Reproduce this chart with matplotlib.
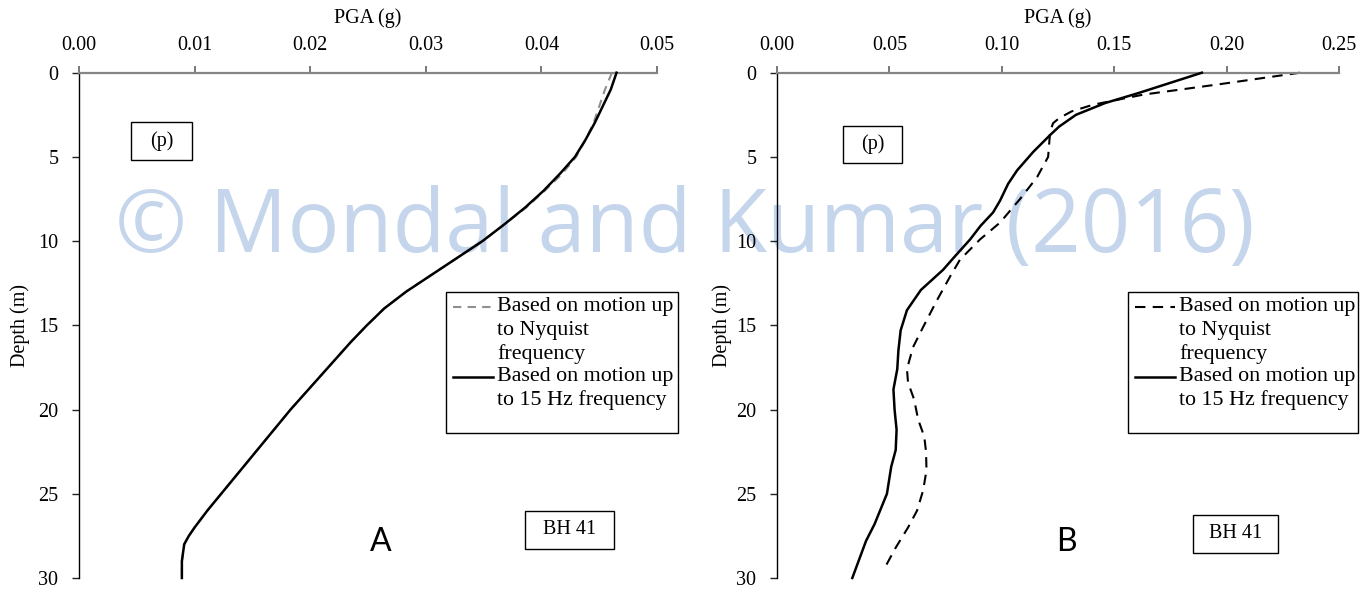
import matplotlib
matplotlib.use("Agg")
import matplotlib.pyplot as plt
from matplotlib.patches import Rectangle
from matplotlib.lines import Line2D

W, H = 1368, 593
DPI = 100

# ---------------- data ----------------
# Panel A (left)
depth_A_solid = [0, 1, 2, 3, 4, 5, 6, 7, 8, 9, 10, 11, 12, 13, 14, 15, 16, 17, 18,
                 19, 20, 21, 22, 23, 24, 25, 26, 27, 27.5, 28, 29, 30]
pga_A_solid = [0.0465, 0.0460, 0.0453, 0.0446, 0.0438, 0.0429, 0.0416, 0.0402, 0.0386,
               0.0368, 0.0349, 0.0327, 0.0305, 0.0283, 0.0264, 0.0249, 0.0235, 0.0222,
               0.0209, 0.0196, 0.0183, 0.0171, 0.0159, 0.0147, 0.0135, 0.0123, 0.0111,
               0.0100, 0.0095, 0.0091, 0.0089, 0.0089]
depth_A_dash = [0, 1, 2, 3, 4, 5, 6, 7, 8, 9, 10, 11, 12, 13, 14, 15, 16, 17, 18,
                19, 20, 21, 22, 23, 24, 25, 26, 27, 27.5, 28, 29, 30]
pga_A_dash = [0.0461, 0.0455, 0.0450, 0.0445, 0.0438, 0.0430, 0.0418, 0.0403, 0.0387,
              0.0368, 0.0349, 0.0327, 0.0305, 0.0283, 0.0264, 0.0249, 0.0235, 0.0222,
              0.0209, 0.0196, 0.0183, 0.0171, 0.0159, 0.0147, 0.0135, 0.0123, 0.0111,
              0.0100, 0.0095, 0.0091, 0.0089, 0.0089]

# Panel B (right)
depth_B_solid = [0, 0.6, 1.2, 1.8, 2.5, 3.2, 3.7, 4.7, 5.8, 6.6, 7.6, 8.3, 9.1, 9.9,
                 11.0, 11.7, 12.9, 14.1, 15.3, 16.5, 17.6, 18.8, 20.0, 21.2, 22.4,
                 23.4, 25.0, 26.8, 27.8, 30.0]
pga_B_solid = [0.189, 0.175, 0.161, 0.146, 0.133, 0.1255, 0.1215, 0.114, 0.1068, 0.1028,
               0.0992, 0.0961, 0.0905, 0.0859, 0.0785, 0.0739, 0.0640, 0.0578, 0.0550,
               0.0540, 0.0535, 0.0518, 0.0523, 0.0532, 0.0528, 0.0508, 0.0489, 0.0434,
               0.0396, 0.0335]
depth_B_dash = [0, 0.7, 1.3, 1.9, 2.3, 2.7, 3.0, 3.5, 5.0, 6.2, 7.5, 8.9, 9.9, 11.1,
                12.1, 13.5, 15.1, 16.3, 17.6, 18.4, 19.4, 20.6, 21.6, 22.5, 23.6, 24.8,
                26.0, 27.0, 28.2, 29.5]
pga_B_dash = [0.2327, 0.196, 0.163, 0.1406, 0.131, 0.1255, 0.1228, 0.1215, 0.1206,
              0.1157, 0.1081, 0.0992, 0.0903, 0.0814, 0.0770, 0.0712, 0.0650, 0.0605,
              0.0578, 0.0583, 0.0610, 0.0628, 0.0655, 0.0663, 0.0665, 0.0650, 0.0623,
              0.0583, 0.0528, 0.0475]

xticks_A = [0.00, 0.01, 0.02, 0.03, 0.04, 0.05]
xticklabels_A = ["0.00", "0.01", "0.02", "0.03", "0.04", "0.05"]
xticks_B = [0.00, 0.05, 0.10, 0.15, 0.20, 0.25]
xticklabels_B = ["0.00", "0.05", "0.10", "0.15", "0.20", "0.25"]
yticks = [0, 5, 10, 15, 20, 25, 30]
yticklabels = ["0", "5", "10", "15", "20", "25", "30"]

legend_label_1 = ["Based on motion up", "to Nyquist", "frequency"]
legend_label_2 = ["Based on motion up", "to 15 Hz frequency"]
watermark = "\u00a9 Mondal and Kumar (2016)"

# ---------------- figure ----------------
SERIF = ["Liberation Serif", "DejaVu Serif"]
fig = plt.figure(figsize=(W / DPI, H / DPI), dpi=DPI)
fig.patch.set_facecolor("white")


def fx(x):
    return x / W


def fy(y):
    return 1 - y / H


Y_TOP, Y_BOT = 72.7, 578.0


def make_axes(x0, x1, xlim, xticks, xticklabels):
    ax = fig.add_axes([fx(x0), fy(Y_BOT), (x1 - x0) / W, (Y_BOT - Y_TOP) / H])
    ax.set_facecolor("none")
    ax.set_xlim(*xlim)
    ax.set_ylim(30, 0)
    ax.xaxis.tick_top()
    ax.set_xticks(xticks)
    ax.set_xticklabels(xticklabels, family=SERIF, fontsize=14.5)
    ax.set_yticks(yticks)
    ax.set_yticklabels(yticklabels, family=SERIF, fontsize=14.5)
    for s in ("bottom", "right"):
        ax.spines[s].set_visible(False)
    ax.spines["top"].set_color("#858585")
    ax.spines["top"].set_linewidth(1.6)
    ax.spines["left"].set_color("#000000")
    ax.spines["left"].set_linewidth(1.0)
    ax.tick_params(axis="x", direction="out", length=5, width=1.1, color="#555555",
                   pad=8, labelcolor="black")
    ax.tick_params(axis="y", direction="out", length=5.3, width=1.0, color="#222222",
                   pad=9.5, labelcolor="black")
    return ax


axA = make_axes(79, 657, (0, 0.05), xticks_A, xticklabels_A)
axB = make_axes(777, 1339, (0, 0.25), xticks_B, xticklabels_B)

axA.plot(pga_A_dash, depth_A_dash, color="#8f8f8f", lw=1.5, ls=(0, (4, 3)),
         zorder=2, clip_on=False)
axA.plot(pga_A_solid, depth_A_solid, color="black", lw=1.8, zorder=3, clip_on=False)
axB.plot(pga_B_dash, depth_B_dash, color="black", lw=1.5, ls=(0, (5, 3.5)),
         zorder=2, clip_on=False)
axB.plot(pga_B_solid, depth_B_solid, color="black", lw=1.8, zorder=3, clip_on=False)

# axis titles / labels
for cx, lx in ((368, 20), (1058, 722)):
    fig.text(fx(cx), fy(18), "PGA (g)", family=SERIF, fontsize=14.5,
             ha="center", va="center")
    fig.text(fx(lx), fy((Y_TOP + Y_BOT) / 2), "Depth (m)", family=SERIF,
             fontsize=14.5, rotation=90, ha="center", va="center")


def boxed_text(x0, y0, x1, y1, s, size=14.5):
    fig.patches.append(Rectangle((fx(x0), fy(y1)), (x1 - x0) / W, (y1 - y0) / H,
                                 transform=fig.transFigure, facecolor="white",
                                 edgecolor="black", lw=1.0, zorder=5))
    fig.text(fx((x0 + x1) / 2), fy((y0 + y1) / 2), s, family=SERIF, fontsize=size,
             ha="center", va="center", zorder=6)


boxed_text(131, 122, 192, 160, "(p)")
boxed_text(843, 126, 902, 163, "(p)")
boxed_text(525, 511, 614, 549, "BH 41")
boxed_text(1193, 515, 1278, 553, "BH 41")


def legend_box(x0, y0, x1, y1, dash_color, dash_style):
    fig.patches.append(Rectangle((fx(x0), fy(y1)), (x1 - x0) / W, (y1 - y0) / H,
                                 transform=fig.transFigure, facecolor="white",
                                 edgecolor="black", lw=1.0, zorder=5))
    hx0, hx1 = x0 + 7, x0 + 47
    tx = x0 + 51
    pitch = 23.3
    first = y0 + 15
    fig.add_artist(Line2D([fx(hx0), fx(hx1)], [fy(first), fy(first)],
                          transform=fig.transFigure, color=dash_color, lw=1.5,
                          ls=dash_style, zorder=6))
    for i, s in enumerate(legend_label_1):
        fig.text(fx(tx), fy(first + i * pitch), s, family=SERIF, fontsize=15.8,
                 ha="left", va="center", zorder=6)
    second = first + 3 * pitch
    fig.add_artist(Line2D([fx(hx0), fx(hx1)], [fy(second), fy(second)],
                          transform=fig.transFigure, color="black", lw=1.8,
                          zorder=6))
    for i, s in enumerate(legend_label_2):
        fig.text(fx(tx), fy(second + i * pitch), s, family=SERIF, fontsize=15.8,
                 ha="left", va="center", zorder=6)


legend_box(446, 292, 678, 433, "#8f8f8f", (0, (4, 3)))
legend_box(1128, 292, 1358, 433, "black", (0, (5, 3.5)))

fig.text(fx(381), fy(542), "A", family=["Lato", "DejaVu Sans"], fontsize=23,
         ha="center", va="center")
fig.text(fx(1066), fy(542), "B", family=["Lato", "DejaVu Sans"], fontsize=23,
         ha="center", va="center")

# watermark
wm = fig.text(fx(685), fy(252), watermark, family=["Open Sans", "DejaVu Sans"],
              fontsize=72, color="#c5d6ec", ha="center", va="baseline", zorder=-1)
fig.canvas.draw()
bb = wm.get_window_extent()
wm.set_fontsize(72 * 1140 / bb.width)

fig.savefig("out.png", dpi=DPI, facecolor="white")
